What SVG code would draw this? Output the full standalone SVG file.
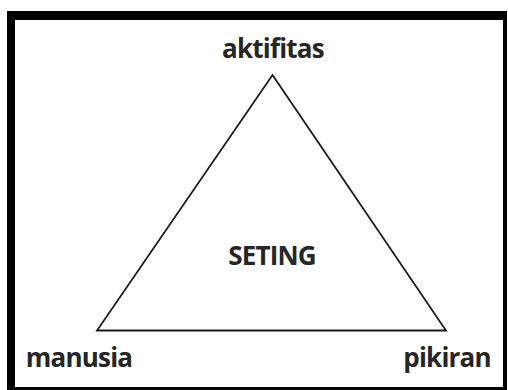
<svg xmlns="http://www.w3.org/2000/svg" width="508" height="390" viewBox="0 0 508 390">
<style>
.lbl{font-family:"Open Sans","Liberation Sans",sans-serif;font-weight:bold;font-size:26px;letter-spacing:-0.8px;fill:#262626;text-anchor:middle}
.edge{fill:none;stroke:#1a1a1a;stroke-width:1.8;stroke-linejoin:miter}
</style>
<rect x="0" y="0" width="508" height="390" fill="#ffffff"/>
<g id="frame">
<rect x="7" y="11" width="500" height="383" fill="#000000"/>
<rect x="15" y="20" width="488" height="367" fill="#ffffff"/>
</g>
<g id="connectors">
<path class="edge" d="M272.5,75 L446,330.5 L97,330.5 Z"/>
</g>
<g id="aktifitas"><text class="lbl" x="273" y="58">aktifitas</text></g>
<g id="manusia"><text class="lbl" x="79" y="367">manusia</text></g>
<g id="pikiran"><text class="lbl" x="447" y="367">pikiran</text></g>
<g id="seting"><text class="lbl" x="272" y="265">SETING</text></g>
</svg>
